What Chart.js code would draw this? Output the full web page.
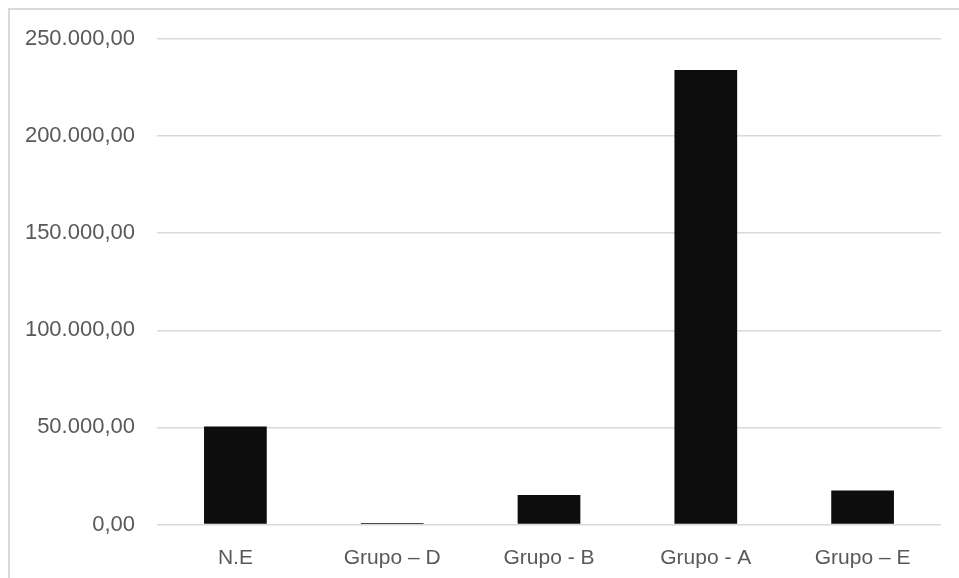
<!DOCTYPE html>
<html>
<head>
<meta charset="utf-8">
<script src="https://cdn.jsdelivr.net/npm/chart.js@4/dist/chart.umd.min.js"></script>
<style>
    html, body { margin: 0; padding: 0; background: #ffffff; }
    #wrap { position: relative; width: 959px; height: 578px; }
    #frame {
        position: absolute; left: 8px; top: 8px; right: 0; bottom: 0;
        border-top: 2px solid #d9d9d9; border-left: 2px solid #d9d9d9;
    }
    canvas { position: absolute; left: 0; top: 0; }
</style>
</head>
<body>
<div id="wrap">
    <div id="frame"></div>
    <canvas id="chart" width="959" height="578"></canvas>
</div>
<script>
const categories = ['N.E', 'Grupo \u2013 D', 'Grupo - B', 'Grupo - A', 'Grupo \u2013 E'];
const values = [50400, 800, 15200, 234000, 17500];
const tickStep = 50000;
const tickMax = 250000;

// format like 250.000,00
function formatBR(value) {
    const intPart = Math.round(value).toString().replace(/\B(?=(\d{3})+(?!\d))/g, '.');
    return intPart + ',00';
}

const ctx = document.getElementById('chart').getContext('2d');

new Chart(ctx, {
    type: 'bar',
    data: {
        labels: categories,
        datasets: [{
            data: values,
            backgroundColor: '#0d0d0d',
            borderWidth: 0,
            barPercentage: 0.4,
            categoryPercentage: 1.0
        }]
    },
    options: {
        responsive: false,
        animation: false,
        layout: {
            padding: { top: 39, right: 18, left: 0, bottom: 0 }
        },
        plugins: {
            legend: { display: false },
            tooltip: { enabled: false }
        },
        scales: {
            x: {
                grid: { display: false },
                border: { display: false },
                ticks: {
                    color: '#595959',
                    font: { family: 'Liberation Sans', size: 21 },
                    padding: 13,
                    maxRotation: 0
                },
                afterFit: scale => { scale.height = 53.5; }
            },
            y: {
                min: 0,
                max: tickMax,
                border: { display: false },
                grid: {
                    color: '#d9d9d9',
                    lineWidth: 1.5,
                    drawTicks: false
                },
                ticks: {
                    stepSize: tickStep,
                    color: '#595959',
                    font: { family: 'Liberation Sans', size: 22 },
                    padding: 22,
                    callback: value => formatBR(value)
                },
                afterFit: scale => { scale.width = 157; }
            }
        }
    }
});
</script>
</body>
</html>
